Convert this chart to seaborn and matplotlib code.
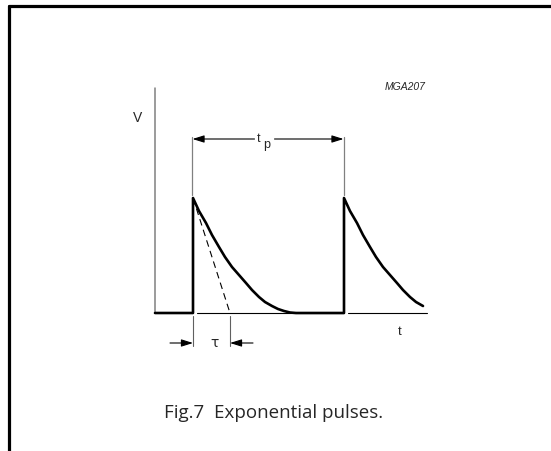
import matplotlib
matplotlib.use("Agg")
import matplotlib.pyplot as plt
import seaborn as sns
import numpy as np
import pandas as pd
from matplotlib.lines import Line2D

# waveform (time / voltage in drawing units)
t_axis_end = 272
v_axis_top = 225
pulse_starts = [38, 189]
v_peak = 115
tau = 37
# shape of one decay (time after the edge, voltage)
decay_dt = [0, 6, 13, 19, 26, 32, 39, 46, 53, 59, 66, 72, 79, 85, 91, 97, 103]
decay_v = [115, 102, 90, 78, 66, 56, 46, 38, 30, 23, 16, 11, 7, 4, 2, 0.5, 0]
last_pulse_len = 79

# polyline for the pulse train
xs = [0, pulse_starts[0]]
ys = [0, 0]
for i, p0 in enumerate(pulse_starts):
    if i == len(pulse_starts) - 1:
        keep = [k for k, d in enumerate(decay_dt) if d <= last_pulse_len]
    else:
        keep = range(len(decay_dt))
    xs += [p0 + decay_dt[k] for k in keep]
    ys += [decay_v[k] for k in keep]
    if i < len(pulse_starts) - 1:
        xs += [pulse_starts[i + 1]]
        ys += [0]
wave = pd.DataFrame({"t": xs, "v": ys})

sns.set_style("white")
fig = plt.figure(figsize=(5.51, 4.51), dpi=100)
ax = fig.add_axes([0, 0, 1, 1])
ax.set_xlim(-155, 396)
ax.set_ylim(-138, 313)
ax.axis("off")

# frame (top and left only)
fig.add_artist(Line2D([8.5 / 551, 1], [1 - 5.5 / 451] * 2, color="black", lw=2.3))
fig.add_artist(Line2D([8.5 / 551] * 2, [0, 1 - 5.5 / 451], color="black", lw=2.3))

# axes
ax.plot([0, 0], [0, v_axis_top], color="#808080", lw=1.1)
ax.plot([pulse_starts[0] + 4, pulse_starts[1]], [0, 0], color="black", lw=0.8)
ax.plot([pulse_starts[1] + 4, t_axis_end], [0, 0], color="black", lw=0.8)

# waveform
sns.lineplot(data=wave, x="t", y="v", sort=False, estimator=None, color="black",
             lw=1.9, ax=ax, legend=False)
for line in ax.lines[-1:]:
    line.set_solid_joinstyle("round")

# tangent line defining tau
ax.plot([pulse_starts[0], pulse_starts[0] + tau], [v_peak, 0], color="black",
        lw=0.8, dashes=(6, 4))

arrow = dict(arrowstyle="-|>,head_length=0.7,head_width=0.22", color="black",
             lw=0.8, shrinkA=0, shrinkB=0)

# t_p dimension
dim_v = 174
for p0 in pulse_starts:
    ax.plot([p0 - 0.5, p0 - 0.5], [118, dim_v + 2], color="#808080", lw=0.9)
mid = (pulse_starts[0] + pulse_starts[1]) / 2
ax.annotate("", xy=(pulse_starts[0] - 0.5, dim_v), xytext=(mid - 14, dim_v), arrowprops=arrow)
ax.annotate("", xy=(pulse_starts[1] - 0.5, dim_v), xytext=(mid + 6, dim_v), arrowprops=arrow)
ax.text(mid - 10, dim_v, "t", ha="center", va="center", fontsize=9,
        family="Liberation Sans")
ax.text(mid - 2, dim_v - 6, "p", ha="center", va="center", fontsize=9,
        family="Liberation Sans")

# tau dimension
tau_v = -30
for tt in [pulse_starts[0], pulse_starts[0] + tau]:
    ax.plot([tt, tt], [-3, tau_v - 3], color="#606060", lw=0.8)
ax.annotate("", xy=(pulse_starts[0], tau_v), xytext=(pulse_starts[0] - 23, tau_v),
            arrowprops=arrow)
ax.annotate("", xy=(pulse_starts[0] + tau, tau_v), xytext=(pulse_starts[0] + tau + 23, tau_v),
            arrowprops=arrow)
ax.text(pulse_starts[0] + tau / 2 + 3, tau_v, "τ", ha="center", va="center",
        fontsize=10, family="DejaVu Sans")

# labels
ax.text(-17, 195, "V", ha="center", va="center", fontsize=10, family="Liberation Sans")
ax.text(245, -19, "t", ha="center", va="center", fontsize=9.5, family="Liberation Sans")
ax.text(250, 226, "MGA207", ha="center", va="center", fontsize=7.5, style="italic",
        family="Liberation Sans")
ax.text(119, -100, "Fig.7  Exponential pulses.", ha="center", va="center",
        fontsize=13.5, family="Open Sans")

fig.savefig("out.png", dpi=100)
